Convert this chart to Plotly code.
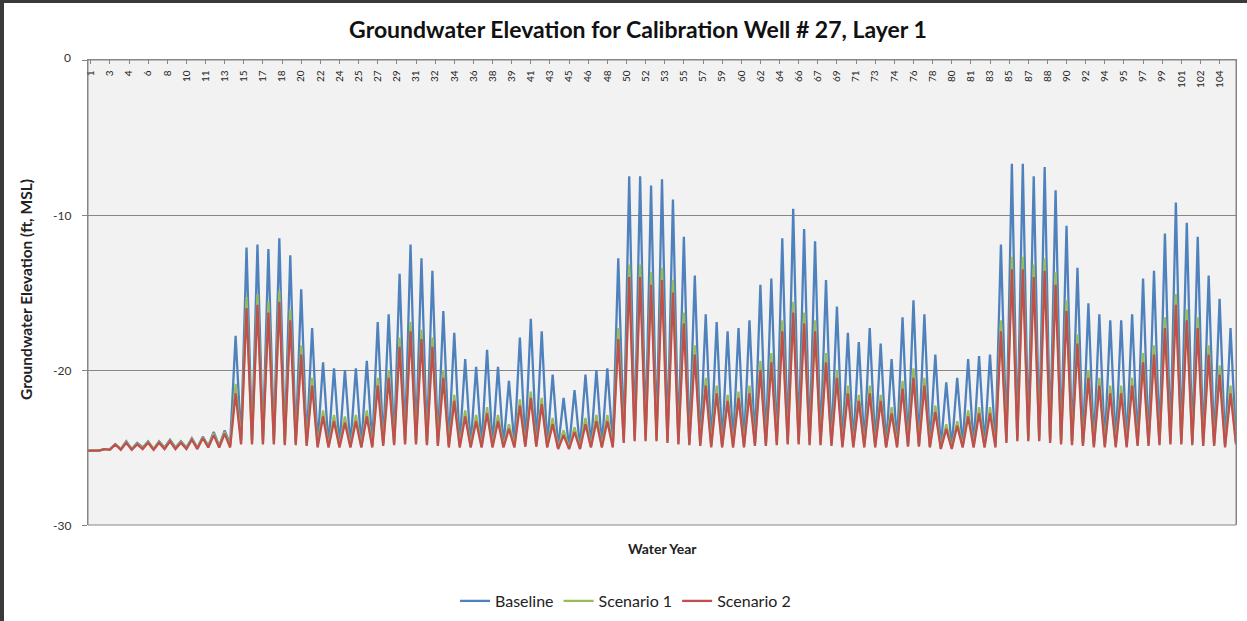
import plotly.graph_objects as go

# Water years 1..105
years = list(range(1, 106))

# Annual high (peak) values, ft MSL
baseline_peaks = [
    -25.2, -25.1, -24.8, -24.6, -24.7, -24.6, -24.6, -24.5, -24.6, -24.4, -24.3, -24.0, -23.9,
    -17.8, -12.1, -11.9, -12.2, -11.5, -12.6, -14.8, -17.3,
    -19.5, -19.9, -20.0, -19.9, -19.4,
    -16.9, -16.4, -13.8, -11.9, -12.8, -13.6, -16.2,
    -17.6, -19.3, -19.8, -18.7, -19.8, -20.7, -17.9, -16.7, -17.5, -20.3, -21.8, -21.3, -20.3, -20.0, -19.9,
    -12.8, -7.5, -7.5, -8.1, -7.7, -9.0, -11.4, -13.9, -16.4, -16.9,
    -17.5, -17.3, -16.8, -14.5, -14.1, -11.5, -9.6, -10.9, -11.7,
    -14.2, -15.9, -17.6, -18.2, -17.3, -18.3, -19.3, -16.6, -15.5, -16.4, -19.0, -20.8, -20.5, -19.3, -19.1, -19.0,
    -11.9, -6.7, -6.7, -7.5, -6.9, -8.4, -10.7, -13.4, -15.7, -16.4, -16.8,
    -16.8, -16.4, -14.1, -13.6, -11.2, -9.2, -10.5, -11.4, -13.9, -15.4, -17.3,
]
scenario1_peaks = [
    -25.2, -25.1, -24.8, -24.65, -24.75, -24.65, -24.65, -24.55, -24.65, -24.45, -24.35, -24.1, -24.0,
    -20.9, -15.3, -15.1, -15.6, -14.9, -16.1, -18.4, -20.5,
    -22.6, -22.9, -23.0, -22.9, -22.6,
    -20.5, -20.0, -17.9, -16.9, -17.4, -17.9, -20.0,
    -21.6, -22.6, -22.9, -22.4, -22.9, -23.5, -21.9, -21.4, -21.8, -23.1, -23.9, -23.7, -23.1, -22.9, -22.9,
    -17.3, -13.2, -13.2, -13.7, -13.4, -14.2, -16.3, -18.4, -20.5, -21.0,
    -21.6, -21.4, -21.0, -19.4, -18.9, -16.8, -15.6, -16.3, -16.8,
    -18.9, -20.0, -21.0, -21.6, -21.0, -21.6, -22.4, -20.7, -19.9, -20.5, -22.3, -23.5, -23.3, -22.6, -22.4, -22.4,
    -16.8, -12.7, -12.7, -13.2, -12.8, -13.7, -15.5, -17.7, -20.0, -20.5, -21.0,
    -21.0, -20.5, -18.9, -18.4, -16.6, -15.1, -16.1, -16.6, -18.4, -19.7, -21.0,
]
scenario2_peaks = [
    -25.2, -25.1, -24.8, -24.7, -24.8, -24.7, -24.7, -24.6, -24.7, -24.5, -24.4, -24.2, -24.1,
    -21.5, -16.0, -15.8, -16.3, -15.6, -16.8, -19.0, -21.0,
    -23.0, -23.3, -23.4, -23.3, -23.0,
    -21.0, -20.5, -18.5, -17.5, -18.0, -18.5, -20.5,
    -22.0, -23.0, -23.3, -22.8, -23.3, -23.8, -22.3, -21.8, -22.2, -23.5, -24.2, -24.0, -23.5, -23.3, -23.3,
    -18.0, -14.0, -14.0, -14.5, -14.2, -15.0, -17.0, -19.0, -21.0, -21.5,
    -22.0, -21.8, -21.5, -20.0, -19.5, -17.5, -16.3, -17.0, -17.5,
    -19.5, -20.5, -21.5, -22.0, -21.5, -22.0, -22.8, -21.2, -20.5, -21.0, -22.7, -23.8, -23.6, -23.0, -22.8, -22.8,
    -17.5, -13.5, -13.5, -14.0, -13.6, -14.5, -16.2, -18.3, -20.5, -21.0, -21.5,
    -21.5, -21.0, -19.5, -19.0, -17.3, -15.8, -16.8, -17.3, -19.0, -20.3, -21.5,
]

# Annual low (trough) values at the start of each water year (106 values, last closes year 105)
baseline_troughs = [
    -25.2, -25.2, -25.1, -25.1, -25.1, -25.0, -25.1, -25.0, -25.0, -25.0, -25.0, -24.9, -24.9,
    -24.8, -24.5, -24.5, -24.5, -24.5, -24.6, -24.6, -24.7,
    -24.8, -24.9, -24.9, -24.9, -24.9,
    -24.8, -24.7, -24.6, -24.5, -24.5, -24.6, -24.7,
    -24.8, -24.8, -24.9, -24.9, -24.9, -24.9, -24.8, -24.8, -24.8, -24.9, -25.0, -25.0, -25.0, -24.9, -24.9,
    -24.8, -24.4, -24.3, -24.3, -24.3, -24.4, -24.5, -24.6, -24.7, -24.8,
    -24.8, -24.8, -24.8, -24.7, -24.7, -24.6, -24.5, -24.5, -24.6,
    -24.6, -24.7, -24.8, -24.8, -24.8, -24.8, -24.9, -24.8, -24.8, -24.8, -24.9, -25.0, -25.0, -24.9, -24.9, -24.9,
    -24.8, -24.4, -24.3, -24.3, -24.3, -24.4, -24.5, -24.6, -24.7, -24.8, -24.8,
    -24.8, -24.8, -24.7, -24.7, -24.6, -24.5, -24.5, -24.6, -24.7, -24.7, -24.8,
    -24.6,
]
scenario1_troughs = [
    -25.2, -25.2, -25.1, -25.1, -25.1, -25.05, -25.1, -25.05, -25.05, -25.05, -25.05, -24.95, -24.95,
    -24.9, -24.7, -24.7, -24.7, -24.7, -24.75, -24.75, -24.8,
    -24.9, -24.95, -24.95, -24.95, -24.95,
    -24.9, -24.8, -24.75, -24.7, -24.7, -24.75, -24.8,
    -24.9, -24.9, -24.95, -24.95, -24.95, -24.95, -24.9, -24.9, -24.9, -24.95, -25.05, -25.05, -25.05, -24.95, -24.95,
    -24.9, -24.6, -24.5, -24.5, -24.5, -24.6, -24.7, -24.75, -24.8, -24.9,
    -24.9, -24.9, -24.9, -24.8, -24.8, -24.75, -24.7, -24.7, -24.75,
    -24.75, -24.8, -24.9, -24.9, -24.9, -24.9, -24.95, -24.9, -24.9, -24.9, -24.95, -25.05, -25.05, -24.95, -24.95, -24.95,
    -24.9, -24.6, -24.5, -24.5, -24.5, -24.6, -24.7, -24.75, -24.8, -24.9, -24.9,
    -24.9, -24.9, -24.8, -24.8, -24.75, -24.7, -24.7, -24.75, -24.8, -24.8, -24.9,
    -24.7,
]
scenario2_troughs = [
    -25.2, -25.2, -25.15, -25.15, -25.15, -25.1, -25.15, -25.1, -25.1, -25.1, -25.1, -25.0, -25.0,
    -25.0, -24.8, -24.8, -24.8, -24.8, -24.85, -24.85, -24.9,
    -25.0, -25.0, -25.0, -25.0, -25.0,
    -25.0, -24.9, -24.85, -24.8, -24.8, -24.85, -24.9,
    -25.0, -25.0, -25.0, -25.0, -25.0, -25.0, -25.0, -24.95, -24.95, -25.0, -25.1, -25.1, -25.1, -25.0, -25.0,
    -25.0, -24.7, -24.6, -24.6, -24.6, -24.7, -24.8, -24.85, -24.9, -25.0,
    -25.0, -25.0, -25.0, -24.9, -24.9, -24.85, -24.8, -24.8, -24.85,
    -24.85, -24.9, -25.0, -25.0, -25.0, -25.0, -25.0, -25.0, -24.95, -24.95, -25.0, -25.1, -25.1, -25.0, -25.0, -25.0,
    -25.0, -24.7, -24.6, -24.6, -24.6, -24.7, -24.8, -24.85, -24.9, -25.0, -25.0,
    -25.0, -25.0, -24.9, -24.9, -24.85, -24.8, -24.8, -24.85, -24.9, -24.9, -25.0,
    -24.8,
]

series_names = ["Baseline", "Scenario 1", "Scenario 2"]
series_colors = ["#4F81BD", "#9BBB59", "#C0504D"]

# X axis tick labels (water year shown every 21 months, as the category axis does)
tick_months = list(range(3, 12 * len(years), 21))
tick_labels = [str(m // 12 + 1) for m in tick_months]

# y axis ticks (labels are written as annotations to place them like the original)
y_min, y_max = -30, 0
y_ticks = [0, -10, -20, -30]
y_tick_labels = ["0", "-10", "-20", "-30"]


def build_series(peaks, troughs):
    xs, ys = [], []
    for i, yr in enumerate(years):
        xs.append((yr - 1) * 12)
        ys.append(troughs[i])
        xs.append((yr - 1) * 12 + 6)
        ys.append(peaks[i])
    xs.append(len(years) * 12)
    ys.append(troughs[len(years)])
    return xs, ys


fig = go.Figure()
for name, color, pk, tr in zip(
    series_names,
    series_colors,
    [baseline_peaks, scenario1_peaks, scenario2_peaks],
    [baseline_troughs, scenario1_troughs, scenario2_troughs],
):
    xs, ys = build_series(pk, tr)
    fig.add_trace(go.Scatter(x=xs, y=ys, mode="lines", name=name,
                             line=dict(color=color, width=2.3)))

font_family = "Lato, 'Open Sans', sans-serif"

W, H = 1247, 621
L, R, T, B = 88, 11, 60, 96
PW, PH = W - L - R, H - T - B


def px_x(px):
    return (px - L) / PW


def px_y(py):
    return (H - B - py) / PH


annotations = [
    dict(text=lab, xref="paper", yref="paper", x=px_x(73),
         y=(val - y_min) / (y_max - y_min) + (2 / PH if val == 0 else 0),
         showarrow=False, xanchor="right", yanchor="middle",
         font=dict(size=12, family=font_family, color="#333333"))
    for val, lab in zip(y_ticks, y_tick_labels)
]
annotations += [
    dict(text="<b>Water Year</b>", xref="paper", yref="paper", x=px_x(662), y=px_y(548),
         showarrow=False, xanchor="center", yanchor="middle",
         font=dict(size=14, family=font_family, color="#222222")),
    dict(text="<b>Groundwater Elevation (ft, MSL)</b>", xref="paper", yref="paper",
         x=px_x(26), y=px_y(290), textangle=-90,
         showarrow=False, xanchor="center", yanchor="middle",
         font=dict(size=15.5, family=font_family, color="#222222")),
]

fig.update_layout(
    width=W, height=H,
    paper_bgcolor="white",
    plot_bgcolor="#F2F2F2",
    margin=dict(l=L, r=R, t=T, b=B, autoexpand=False),
    font=dict(family=font_family, color="#222222"),
    title=dict(text="<b>Groundwater Elevation for Calibration Well # 27, Layer 1</b>",
               x=638 / W, xanchor="center", y=1 - 30 / H, yanchor="middle",
               font=dict(size=23, family=font_family, color="#111111")),
    showlegend=True,
    legend=dict(orientation="h", x=px_x(455), xanchor="left", y=px_y(601), yanchor="middle",
                font=dict(size=16, family=font_family, color="#222222"),
                bgcolor="rgba(0,0,0,0)", itemwidth=30),
    xaxis=dict(
        range=[0, 12 * len(years)],
        automargin=False,
        side="top",
        ticklabelposition="inside",
        ticklabeloverflow="allow",
        tickmode="array", tickvals=tick_months, ticktext=tick_labels,
        tickangle=-90,
        tickfont=dict(size=10, color="#222222"),
        showgrid=False, zeroline=False,
        showline=True, linecolor="#868686", linewidth=1,
        ticks="inside", ticklen=4, tickcolor="#868686",
    ),
    yaxis=dict(
        range=[y_min, y_max],
        automargin=False,
        tickmode="array", tickvals=y_ticks, showticklabels=False,
        showgrid=True, gridcolor="#868686", gridwidth=1,
        zeroline=False,
        showline=True, linecolor="#868686", linewidth=1, mirror=True,
        ticks="outside", ticklen=5, tickcolor="#868686",
    ),
    annotations=annotations,
    shapes=[
        dict(type="rect", xref="paper", yref="paper", x0=0, x1=1, y0=0, y1=1,
             line=dict(color="#868686", width=1), fillcolor="rgba(0,0,0,0)", layer="above"),
        dict(type="rect", xref="paper", yref="paper", x0=px_x(0), x1=px_x(4),
             y0=px_y(H), y1=px_y(0), line=dict(width=0), fillcolor="#3A3A3A"),
        dict(type="rect", xref="paper", yref="paper", x0=px_x(0), x1=px_x(W),
             y0=px_y(3), y1=px_y(0), line=dict(width=0), fillcolor="#3A3A3A"),
    ],
)

fig.write_html("out.html", config={"displayModeBar": False},
               post_script="document.body.style.margin='0';document.body.style.padding='0';")
